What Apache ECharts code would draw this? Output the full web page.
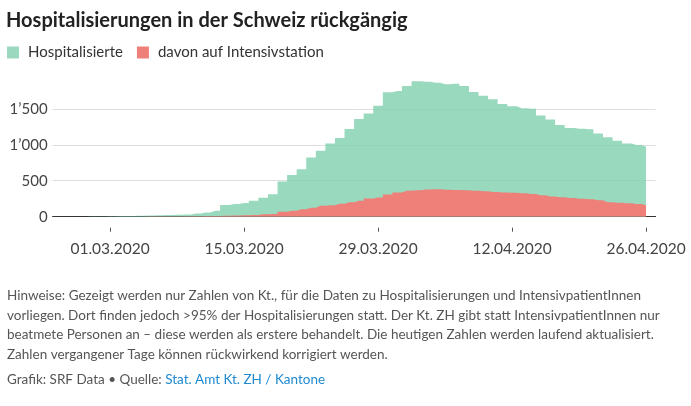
<!DOCTYPE html>
<html>
<head>
<meta charset="utf-8">
<script src="https://cdn.jsdelivr.net/npm/echarts@6/dist/echarts.min.js"></script>
<style>
html,body{margin:0;padding:0;background:#fff;}
#chart{width:691px;height:406px;}
</style>
</head>
<body>
<div id="chart"></div>
<script>
const dates = ['2020-02-24','2020-02-25','2020-02-26','2020-02-27','2020-02-28','2020-02-29',
'2020-03-01','2020-03-02','2020-03-03','2020-03-04','2020-03-05','2020-03-06','2020-03-07','2020-03-08','2020-03-09','2020-03-10',
'2020-03-11','2020-03-12','2020-03-13','2020-03-14','2020-03-15','2020-03-16','2020-03-17','2020-03-18','2020-03-19','2020-03-20',
'2020-03-21','2020-03-22','2020-03-23','2020-03-24','2020-03-25','2020-03-26','2020-03-27','2020-03-28','2020-03-29','2020-03-30','2020-03-31',
'2020-04-01','2020-04-02','2020-04-03','2020-04-04','2020-04-05','2020-04-06','2020-04-07','2020-04-08','2020-04-09','2020-04-10',
'2020-04-11','2020-04-12','2020-04-13','2020-04-14','2020-04-15','2020-04-16','2020-04-17','2020-04-18','2020-04-19','2020-04-20',
'2020-04-21','2020-04-22','2020-04-23','2020-04-24','2020-04-25','2020-04-26'];
const hospitalisierte = [0,0,0,0,2,4,
6,8,10,13,16,20,24,28,31,44,
60,84,164,176,190,222,265,313,490,580,
660,822,917,1019,1095,1218,1357,1436,1542,1728,1748,
1818,1882,1875,1861,1841,1847,1815,1734,1681,1633,
1568,1535,1508,1500,1405,1350,1276,1232,1222,1215,
1158,1105,1056,1019,998,972];
const intensiv = [0,0,0,0,0,0,
0,0,1,1,2,2,3,4,5,6,
8,10,14,17,20,25,33,38,69,83,
102,125,151,160,180,201,222,252,266,308,336,
361,368,379,380,376,372,367,361,353,344,
338,332,327,315,299,281,271,260,250,241,
227,202,193,187,178,158];
const xTickDates = ['2020-03-01','2020-03-15','2020-03-29','2020-04-12','2020-04-26'];
const yTicks = [0,500,1000,1500];
const seriesNames = ['Hospitalisierte','davon auf Intensivstation'];
const titleText = 'Hospitalisierungen in der Schweiz rückgängig';
const noteLines = [
 'Hinweise: Gezeigt werden nur Zahlen von Kt., für die Daten zu Hospitalisierungen und IntensivpatientInnen',
 'vorliegen. Dort finden jedoch >95% der Hospitalisierungen statt. Der Kt. ZH gibt statt IntensivpatientInnen nur',
 'beatmete Personen an – diese werden als erstere behandelt. Die heutigen Zahlen werden laufend aktualisiert.',
 'Zahlen vergangener Tage können rückwirkend korrigiert werden.'
];
const sourcePrefix = 'Grafik: SRF Data • Quelle: ';
const sourceLink = 'Stat. Amt Kt. ZH / Kantone';

const ts = s => { const p = s.split('-').map(Number); return Date.UTC(p[0], p[1]-1, p[2]); };
const DAY = 86400000;
const xMin = ts(dates[0]);
const xMax = ts(dates[dates.length-1]) + DAY;
const pad = n => (n < 10 ? '0' : '') + n;
const fmtDate = v => { const d = new Date(v); return pad(d.getUTCDate()) + '.' + pad(d.getUTCMonth()+1) + '.' + d.getUTCFullYear(); };
const fmtNum = v => v >= 1000 ? Math.floor(v/1000) + '’' + String(v % 1000).padStart(3,'0') : String(v);

const FONT = 'Lato';
const chart = echarts.init(document.getElementById('chart'), null, {renderer:'canvas'});

const graphics = noteLines.map((t, i) => ({
  type:'text', left:7, top: 288.5 + i*19.7,
  style:{text:t, font:'13.5px ' + FONT, fill:'#555'}
}));
graphics.push({
  type:'text', left:7, top: 373,
  style:{
    text:'{a|' + sourcePrefix + '}{b|' + sourceLink + '}',
    rich:{a:{fontFamily:FONT, fontSize:13.5, fill:'#555'}, b:{fontFamily:FONT, fontSize:13.5, fill:'#1f8ad0'}}
  }
});

chart.setOption({
  animation:false,
  title:{text:titleText, left:6, top:11, padding:0,
    textStyle:{fontFamily:FONT, fontSize:20, fontWeight:'bold', color:'#222'}},
  legend:{left:7, top:45, padding:0, itemWidth:12, itemHeight:12, itemGap:14, icon:'rect',
    data:seriesNames,
    textStyle:{fontFamily:FONT, fontSize:15, color:'#333', padding:[0,0,0,4]}},
  grid:{left:52.6, right:35.4, top:80, bottom:189.3, containLabel:false},
  xAxis:[{
    type:'value', min:xMin, max:xMax,
    axisLine:{show:true, onZero:false, lineStyle:{color:'#333', width:1}},
    axisTick:{show:false}, axisLabel:{show:false}, splitLine:{show:false}
  },{
    type:'value', min:xMin, max:xMax, position:'bottom', offset:11,
    axisLine:{show:false, onZero:false},
    axisTick:{show:true, length:4, lineStyle:{color:'#555'}, customValues: xTickDates.map(ts)},
    axisLabel:{show:true, margin:13, fontFamily:FONT, fontSize:15.5, color:'#444',
      customValues: xTickDates.map(ts), formatter: v => fmtDate(v)},
    splitLine:{show:false}
  }],
  yAxis:{
    type:'value', min:0, max:1900, interval:500,
    axisLine:{show:false}, axisTick:{show:false},
    axisLabel:{fontFamily:FONT, fontSize:15, color:'#444', margin:5, showMaxLabel:false,
      formatter: v => yTicks.indexOf(v) >= 0 ? fmtNum(v) : ''},
    splitLine:{show:true, showMaxLine:false, lineStyle:{color:'#dedede', width:1}}
  },
  series:[{
    name:seriesNames[0], type:'line', step:'middle', symbol:'none', xAxisIndex:0,
    data: dates.map((d,i) => [ts(d), hospitalisierte[i]]),
    lineStyle:{width:0, opacity:0},
    itemStyle:{color:'#9ad9bf'},
    areaStyle:{color:'rgba(128,208,172,0.8)', opacity:1},
    z:2
  },{
    name:seriesNames[1], type:'line', step:'middle', symbol:'none', xAxisIndex:0,
    data: dates.map((d,i) => [ts(d), intensiv[i]]),
    lineStyle:{width:0, opacity:0},
    itemStyle:{color:'#ee8079'},
    areaStyle:{color:'#ee8079', opacity:1},
    z:3
  }],
  graphic: graphics
});
</script>
</body>
</html>
